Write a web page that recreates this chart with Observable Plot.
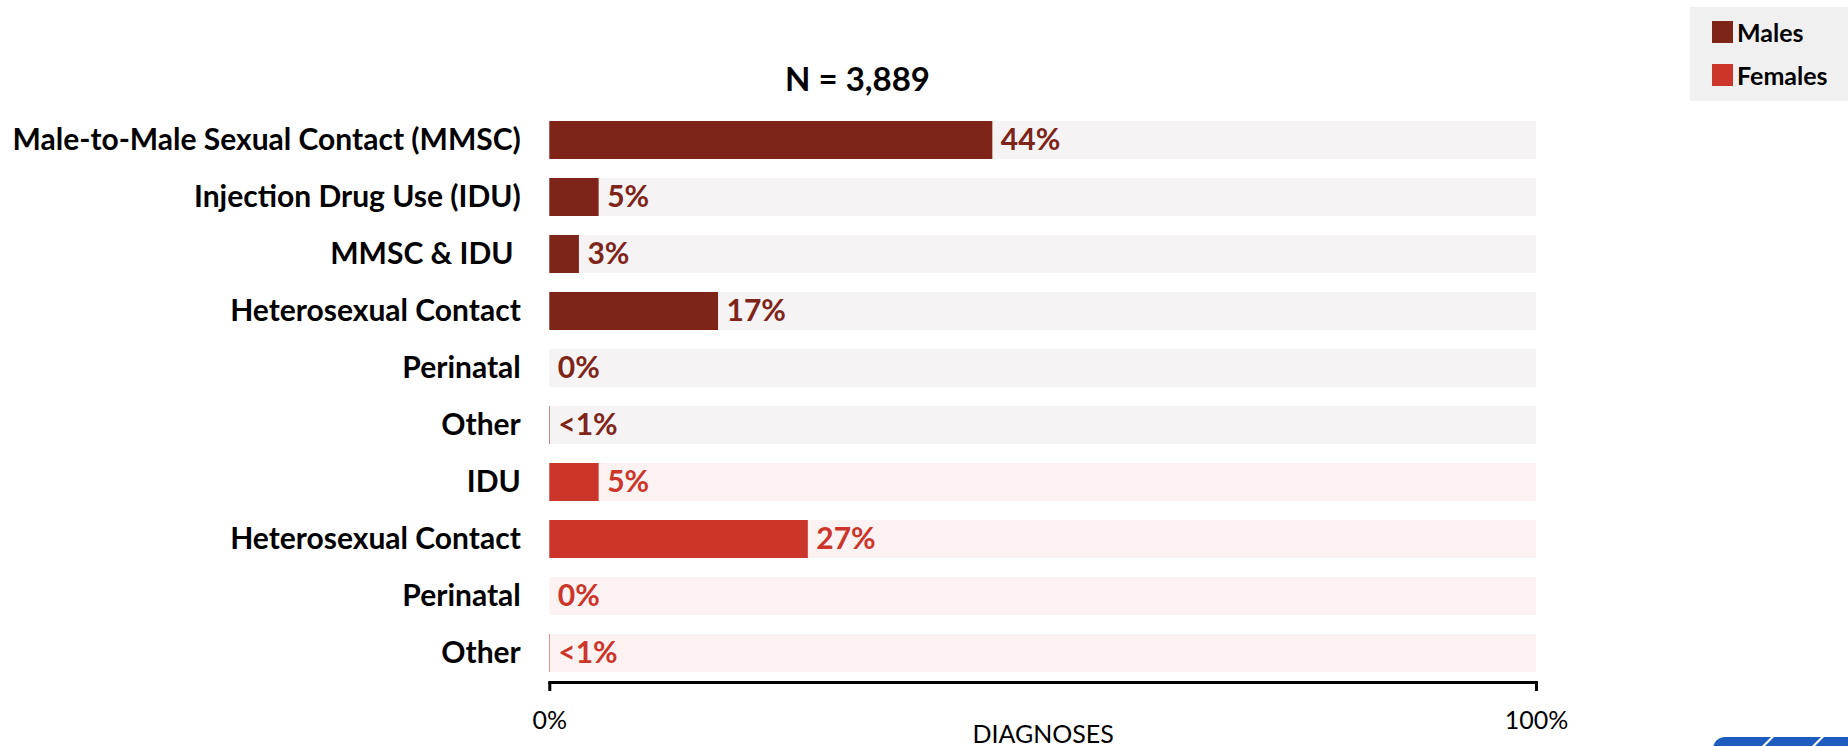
<!DOCTYPE html>
<html>
<head>
<meta charset="utf-8">
<script src="https://cdn.jsdelivr.net/npm/d3@7"></script>
<script src="https://cdn.jsdelivr.net/npm/@observablehq/plot@0.6"></script>
<style>
  body { margin: 0; background: #fff; font-family: Lato, "Open Sans", sans-serif; }
  #wrap { position: relative; width: 1848px; height: 746px; overflow: hidden; background: #fff; }
  #chart { position: absolute; left: 0; top: 0; }
  #title { position: absolute; left: 857.5px; top: 62px; transform: translateX(-50%); font-size: 33px; line-height: 33px; font-weight: 700; color: #000; white-space: nowrap; }
  #legend { position: absolute; left: 1690px; top: 7px; width: 158px; height: 94px; background: #f0f0f0; }
  .item { position: absolute; left: 22px; height: 22px; display: flex; align-items: center; }
  .sw { width: 21px; height: 22px; margin-right: 4px; }
  .lab { font-size: 25px; font-weight: 700; color: #000; line-height: 22px; }
  #logo { position: absolute; left: 1713px; top: 737px; width: 140px; height: 14px; background: #1f5cc0; border-top-left-radius: 12px; overflow: hidden; }
  #logo i { position: absolute; top: -2px; width: 3px; height: 20px; background: #fff; transform: skewX(-45deg); }
</style>
</head>
<body>
<div id="wrap">
  <div id="chart"></div>
  <div id="title"></div>
  <div id="legend"></div>
  <div id="logo"><i style="left:50px"></i><i style="left:100px"></i></div>
</div>
<script>
// ---- data ----
const categories = ["Male-to-Male Sexual Contact (MMSC)", "Injection Drug Use (IDU)", "MMSC & IDU\u00a0", "Heterosexual Contact", "Perinatal", "Other", "IDU", "Heterosexual Contact", "Perinatal", "Other"];
const sexes = ["Males", "Males", "Males", "Males", "Males", "Males", "Females", "Females", "Females", "Females"];
const percents = [44.9, 5.0, 3.0, 17.1, 0, 0.05, 5.0, 26.2, 0, 0.05];
const valueLabels = ["44%", "5%", "3%", "17%", "0%", "<1%", "5%", "27%", "0%", "<1%"];
const sexNames = ["Males", "Females"];
const barColors = ["#7e2418", "#cc352a"];
const trackColors = ["#f5f3f4", "#fdf2f2"];
const xTicks = [0, 100];
const xDomain = [0, 100];
const titleText = "N = 3,889";
const xLabel = "DIAGNOSES";

// ---- build ----
const rows = categories.map((c, i) => ({
  key: i, cat: c, sex: sexes[i], value: percents[i], label: valueLabels[i],
  bar: barColors[sexNames.indexOf(sexes[i])], track: trackColors[sexNames.indexOf(sexes[i])]
}));

const chart = Plot.plot({
  width: 1848,
  height: 746,
  marginLeft: 549.3,
  marginRight: 312,
  marginTop: 110.25,
  marginBottom: 64,
  style: { fontFamily: "Lato, 'Open Sans', sans-serif", background: "transparent", color: "#000" },
  x: { domain: xDomain },
  y: { domain: d3.range(categories.length), paddingInner: 0.341, paddingOuter: 0.17 },
  marks: [
    Plot.barX(rows, { y: "key", x1: xDomain[0], x2: xDomain[1], fill: "track" }),
    Plot.barX(rows, { y: "key", x: "value", fill: "bar" }),
    Plot.text(rows, { y: "key", x: "value", text: "label", dx: 8, textAnchor: "start", fill: "bar", fontWeight: "bold", fontSize: 30 }),
    Plot.axisY({ tickSize: 0, tickPadding: 29, tickFormat: i => categories[i], fontSize: 30, fontWeight: "bold", label: null }),
    Plot.frame({ anchor: "bottom", stroke: "#000", strokeWidth: 3 }),
    Plot.axisX({ ticks: xTicks, tickSize: 9, strokeWidth: 3, tickPadding: 20, tickFormat: d => d + "%", fontSize: 25, label: null }),
    Plot.text([xLabel], { text: d => d, frameAnchor: "bottom", dy: 60, fontSize: 25 })
  ]
});
document.getElementById("chart").appendChild(chart);

document.getElementById("title").textContent = titleText;

const legend = document.getElementById("legend");
sexNames.forEach((s, i) => {
  const it = document.createElement("div");
  it.className = "item";
  it.style.top = (14 + i * 43) + "px";
  it.innerHTML = `<span class="sw" style="background:${barColors[i]}"></span><span class="lab">${s}</span>`;
  legend.appendChild(it);
});
</script>
</body>
</html>
